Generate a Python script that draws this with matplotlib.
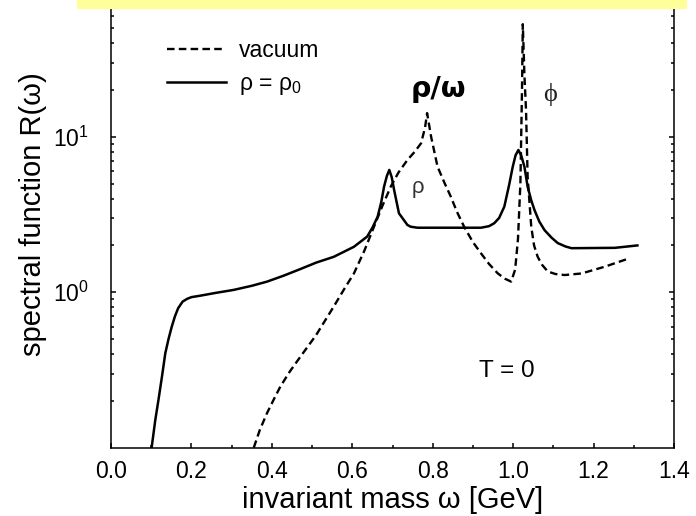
import numpy as np
import matplotlib
matplotlib.use("Agg")
import matplotlib.pyplot as plt
from matplotlib.patches import Rectangle

plt.rcParams['font.family'] = ['Liberation Sans', 'DejaVu Sans']
plt.rcParams['mathtext.fontset'] = 'custom'
plt.rcParams['mathtext.rm'] = 'Liberation Sans'
plt.rcParams['mathtext.it'] = 'Liberation Sans:italic'

# vakuum spektral fonksiyonu (kesikli çizgi)
vac_mass = [0.355, 0.370, 0.388, 0.405, 0.421, 0.445, 0.471, 0.510, 0.554, 0.580,
            0.604, 0.630, 0.654, 0.675, 0.696, 0.715, 0.737, 0.755, 0.771, 0.781,
            0.786, 0.796, 0.812, 0.830, 0.845, 0.860, 0.878, 0.900, 0.920, 0.940,
            0.962, 0.980, 0.995, 1.005, 1.012, 1.018, 1.022, 1.024, 1.028, 1.032,
            1.036, 1.045, 1.052, 1.061, 1.072, 1.086, 1.105, 1.128, 1.170, 1.228,
            1.288]
vac_R = [0.1, 0.13, 0.167, 0.205, 0.247, 0.31, 0.385, 0.53, 0.81, 1.05,
         1.32, 1.85, 2.64, 3.6, 4.8, 5.9, 7.09, 8.0, 9.08, 11.5,
         14.2, 10.0, 6.42, 5.0, 4.12, 3.3, 2.64, 2.1, 1.78, 1.52,
         1.32, 1.22, 1.17, 1.4, 2.2, 5.0, 20.0, 53.0, 25.0, 14.9,
         5.54, 2.64, 2.0, 1.69, 1.5, 1.36, 1.31, 1.29, 1.32, 1.46,
         1.65]

# normal nükleer yoğunlukta (düz çizgi)
med_mass = [0.101, 0.110, 0.118, 0.127, 0.135, 0.143, 0.151, 0.159, 0.167, 0.178,
            0.189, 0.200, 0.222, 0.260, 0.305, 0.350, 0.388, 0.430, 0.471, 0.510,
            0.554, 0.604, 0.637, 0.650, 0.663, 0.672, 0.679, 0.686, 0.692, 0.698,
            0.704, 0.716, 0.737, 0.745, 0.762, 0.920, 0.940, 0.953, 0.965, 0.978,
            0.990, 0.999, 1.006, 1.013, 1.020, 1.028, 1.036, 1.045, 1.053, 1.065,
            1.078, 1.095, 1.111, 1.130, 1.145, 1.253, 1.309]
med_R = [0.1, 0.15, 0.203, 0.29, 0.405, 0.5, 0.60, 0.70, 0.79, 0.87,
         0.906, 0.93, 0.95, 0.99, 1.035, 1.10, 1.17, 1.28, 1.41, 1.55,
         1.69, 1.96, 2.28, 2.6, 3.06, 3.8, 4.78, 5.6, 6.12, 5.5,
         4.55, 3.22, 2.71, 2.64, 2.60, 2.60, 2.66, 2.78, 3.0, 3.55,
         4.9, 6.42, 7.6, 8.22, 7.6, 6.42, 4.78, 3.9, 3.38, 2.85,
         2.51, 2.25, 2.07, 1.97, 1.92, 1.93, 2.0]

fig = plt.figure(figsize=(6.96, 5.16), dpi=100)
ax = fig.add_axes([0.1595, 0.1324, 0.8089, 0.9038])

ax.plot(vac_mass, vac_R, color='black', lw=1.7, linestyle=(0, (3.2, 1.8)), label='vacuum')
ax.plot(med_mass, med_R, color='black', lw=1.8, label=r'ρ = ρ$_0$')

ax.set_yscale('log')
ax.set_xlim(0.0, 1.4)
ax.set_ylim(0.1, 100)
ax.set_yticks([1, 10])
ax.set_xticks(np.arange(0, 1.41, 0.2))
ax.set_xticks(np.arange(0.1, 1.4, 0.2), minor=True)
ax.set_xticklabels(['0.0', '0.2', '0.4', '0.6', '0.8', '1.0', '1.2', '1.4'])

ax.tick_params(which='both', direction='in', left=True, right=True, top=False,
               width=1.1, labelsize=16.5)
ax.tick_params(axis='x', which='major', length=3.6, pad=9)
ax.tick_params(axis='x', which='minor', length=2.2)
ax.tick_params(axis='y', which='major', length=3.8, pad=16)
ax.tick_params(axis='y', which='minor', length=2.4)
for s in ax.spines.values():
    s.set_linewidth(1.1)

ax.set_xlabel('invariant mass ω [GeV]', fontsize=21, labelpad=2)
ax.set_ylabel('spectral function R(ω)', fontsize=21, labelpad=4)

ax.legend(loc='center left', bbox_to_anchor=(0.099, 0.814), frameon=False,
          fontsize=16.5, handlelength=2.6, handletextpad=0.55, labelspacing=0.45,
          borderpad=0, borderaxespad=0)

ax.text(0.813, 18.0, 'ρ/ω', fontsize=20.5, fontweight='bold', family='DejaVu Sans',
        ha='center', va='baseline')
ax.text(1.092, 18.8, 'ϕ', fontsize=19, family=['Liberation Serif', 'DejaVu Serif'],
        ha='center', va='center', color='#222222')
ax.text(0.764, 4.69, 'ρ', fontsize=16, ha='center', va='center', color='#333333')
ax.text(0.915, 0.285, 'T = 0', fontsize=17.5, ha='left', va='baseline')

# üstteki sarı şerit
fig.add_artist(Rectangle((77 / 696, 1 - 9.3 / 516), 610 / 696, 9.3 / 516,
                         transform=fig.transFigure, facecolor='#ffff99',
                         edgecolor='none', zorder=10))

fig.savefig('out.png', dpi=100)
